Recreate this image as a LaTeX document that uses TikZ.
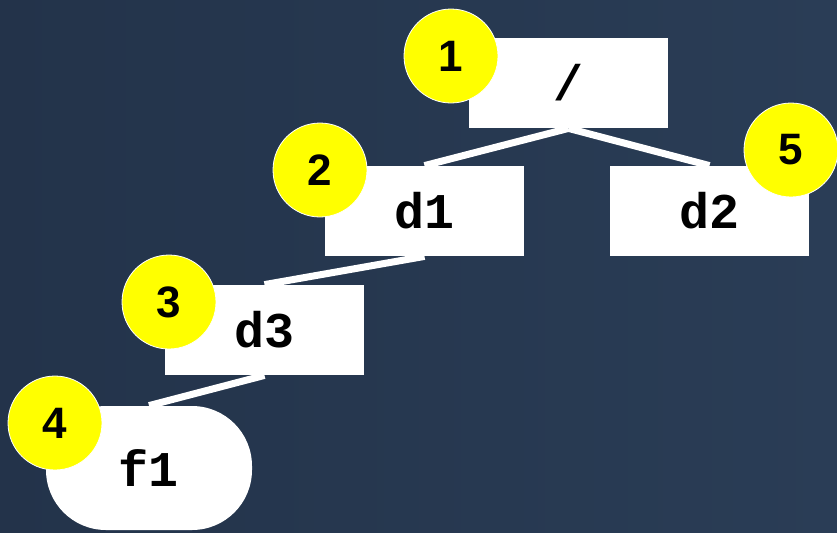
\documentclass[tikz,border=0pt]{standalone}
\usepackage{fontspec}
\newfontfamily\treefont{Liberation Mono}
\newfontfamily\badgefont{Liberation Sans}
\usetikzlibrary{positioning}
\definecolor{boardleft}{HTML}{23334A}
\definecolor{boardright}{HTML}{2A3D56}
\definecolor{badgeyellow}{HTML}{FFFF00}

\begin{document}
\begin{tikzpicture}[x = .5pt, y = -.5pt,
    dir/.style = { fill = white, inner sep = 0pt, minimum width = 99.5pt, minimum height = 45pt,
                   font = \treefont\bfseries\fontsize{25}{25}\selectfont },
    file/.style = { dir, minimum width = 103pt, minimum height = 62pt, rounded corners = 30pt },
    badge/.style = { shape = circle, fill = badgeyellow, draw = white, line width = .4pt,
                     minimum size = 47pt, inner sep = 0pt,
                     font = \badgefont\bfseries\fontsize{22}{22}\selectfont },
    link/.style = { draw = white, line width = 3.5pt }]

    \useasboundingbox (0,0) rectangle (837,532);
    \shade [left color = boardleft, right color = boardright] (0,0) rectangle (837,532);

    \node [dir] (root) at (568.5, 83) { / };
    \node [dir] (d1) at (424.5, 211) { d1 };
    \node [dir] (d2) at (709.5, 211) { d2 };
    \node [dir] (d3) at (264.5, 330) { d3 };
    \node [file] (f1) at (149, 468) { f1 };

    \draw [link] (root.south) -- (d1.north);
    \draw [link] (root.south) -- (d2.north);
    \draw [link] (d1.south) -- (d3.north);
    \draw [link] (d3.south) -- (f1.north);

    \node [badge] (b1) at (451, 56) { 1 };
    \node [badge] (b2) at (320, 170) { 2 };
    \node [badge] (b3) at (169, 302) { 3 };
    \node [badge] (b4) at (55, 423) { 4 };
    \node [badge] (b5) at (791, 150) { 5 };

\end{tikzpicture}
\end{document}
